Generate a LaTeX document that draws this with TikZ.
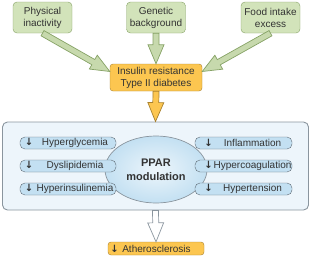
\documentclass[tikz,border=0pt]{standalone}
\usepackage{fontspec}
\setmainfont{Liberation Sans}
\newfontfamily\arrowfont{DejaVu Sans}
\usepackage{tikz}
\usetikzlibrary{calc, shapes.geometric}
\definecolor{causefill}{HTML}{D2E3BA}
\definecolor{causeline}{HTML}{86A266}
\definecolor{gold}{HTML}{FCC650}
\definecolor{goldline}{HTML}{A8812E}
\definecolor{panelfill}{HTML}{EDF5FB}
\definecolor{panelline}{HTML}{8A959E}
\definecolor{itemfill}{HTML}{C3E0F2}
\definecolor{itemline}{HTML}{5F6B75}
\definecolor{txt}{HTML}{333333}
\newcommand{\dn}{{\arrowfont\bfseries ↓}}
% fat hollow arrow between two points
\newcommand{\fatarrow}[3][]{%
  \coordinate (fa-h) at ($(#3)!19pt!(#2)$);
  \draw[fatarr, #1] ($(#2)!3pt!90:(#3)$) -- ($(fa-h)!3pt!90:(#3)$)
    -- ($(fa-h)!8pt!90:(#3)$) -- (#3) -- ($(fa-h)!8pt!-90:(#3)$)
    -- ($(fa-h)!3pt!-90:(#3)$) -- ($(#2)!3pt!-90:(#3)$) -- cycle;}

\begin{document}
\begin{tikzpicture}[x=1pt, y=-1pt,
    every node/.style={text=txt, font=\fontsize{10}{12}\selectfont},
    cause/.style={rectangle, draw=causeline, fill=causefill, rounded corners=4pt,
      minimum width=59pt, minimum height=31pt, align=center, inner sep=1pt},
    goldbox/.style={rectangle, draw=goldline, fill=gold, rounded corners=3pt,
      inner sep=0pt, align=center},
    item/.style={rectangle, draw=itemline, fill=itemfill, rounded corners=5pt,
      minimum height=12pt, inner sep=0pt},
    fatarr/.style={draw=causeline, fill=causefill!85!causeline, line width=0.7pt, line join=miter}
  ]
  \useasboundingbox (0,0) rectangle (312,257);

  % causes
  \node[cause] (phys) at (42.5,17.5) {Physical\\inactivity};
  \node[cause] (gene) at (156,17.5) {Genetic\\background};
  \node[cause] (food) at (270.5,17.5) {Food intake\\excess};
  \node[goldbox, minimum width=92pt, minimum height=27pt] (insulin) at (156,77.5)
    {Insulin resistance\\Type II diabetes};

  % PPAR panel
  \node[rectangle, draw=panelline, fill=panelfill, line width=0.9pt, rounded corners=5pt,
    minimum width=306pt, minimum height=88pt] (panel) at (155.5,166) {};
  \node[ellipse, draw=panelline, line width=0.7pt, inner color=itemfill!30, outer color=itemfill,
    minimum width=102pt, minimum height=67pt, inner sep=0pt,
    font=\fontsize{11}{14}\selectfont\bfseries, align=center] (ppar) at (156,169.5)
    {PPAR\\modulation};

  \node[item, minimum width=96pt] (glyc) at (68,143)
    {\makebox[14pt]{\dn}\makebox[78pt]{Hyperglycemia}\hspace{4pt}};
  \node[item, minimum width=96pt] (lipid) at (68,166)
    {\makebox[14pt]{\dn}\makebox[78pt]{Dyslipidemia}\hspace{4pt}};
  \node[item, minimum width=96pt] (insul) at (68,189)
    {\makebox[14pt]{\dn}\makebox[78pt]{Hyperinsulinemia}\hspace{4pt}};
  \node[item, minimum width=97pt] (infl) at (243.5,143)
    {\makebox[18pt]{\dn}\makebox[70pt]{Inflammation}\hspace{9pt}};
  \node[item, minimum width=97pt] (coag) at (243.5,166)
    {\makebox[18pt]{\dn}\makebox[70pt]{Hypercoagulation}\hspace{9pt}};
  \node[item, minimum width=97pt] (tens) at (243.5,189)
    {\makebox[18pt]{\dn}\makebox[70pt]{Hypertension}\hspace{9pt}};

  \node[goldbox, minimum width=96pt, minimum height=13pt] (ather) at (156,248.5)
    {\makebox[13pt]{\dn}\makebox[71pt]{Atherosclerosis}\hspace{12pt}};

  % arrows
  \coordinate (physend) at ([yshift=6pt]insulin.west);
  \coordinate (foodend) at ([yshift=6pt]insulin.east);
  \fatarrow{phys.south}{physend}
  \fatarrow{gene.south}{insulin.north}
  \fatarrow{food.south}{foodend}
  \fatarrow[draw=goldline, fill=gold]{insulin.south}{panel.north}
  \fatarrow[draw=panelline, fill=white]{panel.south}{ather.north}
\end{tikzpicture}
\end{document}
